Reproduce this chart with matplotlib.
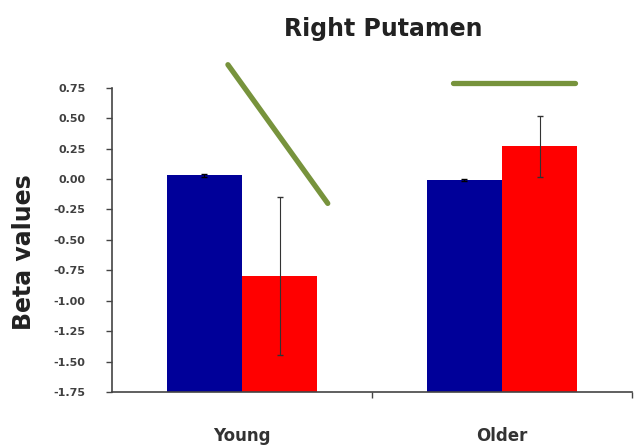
import matplotlib
matplotlib.use('Agg')
import matplotlib.pyplot as plt
import numpy as np

# Grupos y valores beta (media y error) para cada condición
groups = ['Young', 'Older']
blue_means = [0.03, -0.01]
blue_err = [0.01, 0.01]
red_means = [-0.80, 0.27]
red_err = [0.65, 0.25]

# Líneas de tendencia dibujadas encima de cada grupo (x relativo al centro, y en valores beta)
young_trend_x = [-0.054, 0.33]
young_trend_y = [0.94, -0.20]
older_trend_x = [-0.19, 0.28]
older_trend_y = [0.79, 0.79]

yticks = [0.75, 0.50, 0.25, 0.00, -0.25, -0.50, -0.75, -1.00, -1.25, -1.50, -1.75]
ymin, ymax = -1.75, 0.75

fig = plt.figure(figsize=(6.38, 4.48), dpi=100)
ax = fig.add_axes([0.1755, 0.125, 0.815, 0.679])

x = np.arange(len(groups))
width = 0.29
# Las barras arrancan desde el eje inferior (-1.75), como en Excel
ax.bar(x - width / 2, np.array(blue_means) - ymin, width, bottom=ymin,
       color='#000099', yerr=blue_err,
       error_kw=dict(ecolor='black', elinewidth=0.8, capsize=2))
ax.bar(x + width / 2, np.array(red_means) - ymin, width, bottom=ymin,
       color='#FF0000', yerr=red_err,
       error_kw=dict(ecolor='#333333', elinewidth=0.8, capsize=2))

green = '#77933C'
ax.plot(x[0] + np.array(young_trend_x), young_trend_y, color=green, lw=3.8,
        solid_capstyle='round', clip_on=False)
ax.plot(x[1] + np.array(older_trend_x), older_trend_y, color=green, lw=3.8,
        solid_capstyle='round', clip_on=False)

ax.set_xlim(-0.5, 1.5)
ax.set_ylim(ymin, ymax)

ax.set_yticks(yticks)
ax.set_yticklabels(['%.2f' % v for v in yticks], fontsize=8,
                   fontweight='bold', color='#404040')
ax.tick_params(axis='y', length=4, width=1, color='#444444', pad=15)

# Marcas en los límites entre grupos y etiquetas centradas
ax.set_xticks([0.5, 1.5])
ax.set_xticklabels(['', ''])
ax.tick_params(axis='x', which='major', length=4, width=1, color='#444444')
ax.set_xticks(x, minor=True)
ax.set_xticklabels(groups, minor=True, fontsize=12, fontweight='bold',
                   color='#333333')
ax.tick_params(axis='x', which='minor', length=0, pad=25)

for side in ['top', 'right']:
    ax.spines[side].set_visible(False)
for side in ['left', 'bottom']:
    ax.spines[side].set_color('#444444')
    ax.spines[side].set_linewidth(1.2)

ax.set_ylabel('Beta values', fontsize=17, fontweight='bold', color='#222222')
ax.yaxis.set_label_coords(-0.146, 0.46)
fig.text(0.600, 0.935, 'Right Putamen', ha='center', va='center',
         fontsize=17, fontweight='bold', color='#222222')

fig.savefig('out.png', dpi=100)
